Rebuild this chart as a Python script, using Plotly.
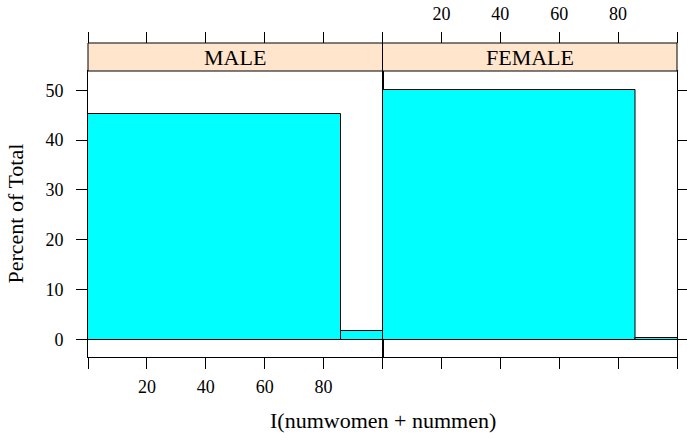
import numpy as np
import plotly.graph_objects as go

panels = ["MALE", "FEMALE"]
bin_edges = [-14.2, 85.8, 185.8]
male_pct = [45.24, 1.72]
female_pct = [50.13, 0.32]
x_ticks = [0, 20, 40, 60, 80, 100]
x_tick_labels = ["", "20", "40", "60", "80", ""]
y_ticks = [0, 10, 20, 30, 40, 50]

FONT = "Liberation Serif"
edges = np.array(bin_edges)
centers = (edges[:-1] + edges[1:]) / 2
widths = edges[1:] - edges[:-1]

fig = go.Figure()
for i, vals in enumerate([male_pct, female_pct]):
    xa = "x" if i == 0 else "x2"
    ya = "y" if i == 0 else "y2"
    fig.add_trace(go.Bar(x=centers, y=vals, width=widths, xaxis=xa, yaxis=ya,
                         marker=dict(color="#00FFFF", line=dict(color="black", width=1)),
                         showlegend=False, hoverinfo="skip"))
# dummy traces for top axes
fig.add_trace(go.Scatter(x=[], y=[], xaxis="x3", yaxis="y", showlegend=False))
fig.add_trace(go.Scatter(x=[], y=[], xaxis="x4", yaxis="y2", showlegend=False))

top = 286 / 314
yr = [-3.5, 53.85]
xr = [0, 100]
common_x = dict(range=xr, tickvals=x_ticks, ticks="outside", ticklen=11, tickwidth=1,
                tickcolor="black", showgrid=False, zeroline=False, fixedrange=True,
                automargin=False,
                tickfont=dict(family=FONT, size=18, color="black"))
fig.update_layout(
    width=687, height=433,
    margin=dict(l=88, r=10, t=43, b=76, autoexpand=False),
    paper_bgcolor="white", plot_bgcolor="white",
    bargap=0,
    xaxis=dict(domain=[0, 0.5], anchor="y", ticktext=x_tick_labels, showline=True,
               linecolor="black", linewidth=1, mirror=True, ticklabelstandoff=2, **common_x),
    xaxis2=dict(domain=[0.5, 1], anchor="y2", ticktext=[""] * 6, showline=True,
                linecolor="black", linewidth=1, mirror=True, **common_x),
    xaxis3=dict(domain=[0, 0.5], anchor="free", position=1, side="top", overlaying="x",
                ticktext=[""] * 6, showline=False, **common_x),
    xaxis4=dict(domain=[0.5, 1], anchor="free", position=1, side="top", overlaying="x2",
                ticktext=x_tick_labels, showline=False, ticklabelstandoff=5, **common_x),
    yaxis=dict(domain=[0, top], anchor="x", range=yr, tickvals=y_ticks, ticks="outside",
               ticklen=11, tickwidth=1, tickcolor="black", showline=True, linecolor="black",
               linewidth=1, mirror=True, showgrid=False, zeroline=False, fixedrange=True,
               ticklabelstandoff=9, automargin=False,
               tickfont=dict(family=FONT, size=18, color="black")),
    yaxis2=dict(domain=[0, top], anchor="x2", matches="y", range=yr, tickvals=y_ticks,
                ticks="outside", side="right", showticklabels=False, ticklen=11, tickwidth=1,
                tickcolor="black", showline=True, linecolor="black", linewidth=1, mirror=True,
                showgrid=False, zeroline=False, fixedrange=True, automargin=False),
)

for i, name in enumerate(panels):
    x0, x1 = (0, 0.5) if i == 0 else (0.5, 1)
    fig.add_shape(type="rect", xref="paper", yref="paper", x0=x0, x1=x1, y0=top, y1=1,
                  fillcolor="#FFE5CC", line=dict(color="black", width=1), layer="above")
    fig.add_annotation(text=name, xref="paper", yref="paper", x=(x0 + x1) / 2,
                       y=(top + 1) / 2, showarrow=False, xanchor="center", yanchor="middle",
                       font=dict(family=FONT, size=22, color="black"))

fig.add_annotation(text="I(numwomen + nummen)", xref="paper", yref="paper", x=0.5, y=0,
                   yshift=-63, showarrow=False, xanchor="center", yanchor="middle",
                   font=dict(family=FONT, size=22, color="black"))
fig.add_annotation(text="Percent of Total", xref="paper", yref="paper", x=0, y=top / 2,
                   xshift=-73.5, textangle=-90, showarrow=False, xanchor="center",
                   yanchor="middle", font=dict(family=FONT, size=22, color="black"))

fig.write_html("out.html", config={"displayModeBar": False},
               post_script="document.body.style.margin='0';document.body.style.padding='0';")
